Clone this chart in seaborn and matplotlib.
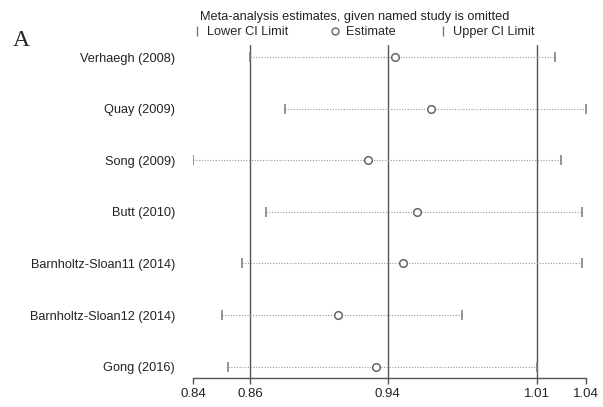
import matplotlib
matplotlib.use("Agg")
import matplotlib.pyplot as plt
from matplotlib.lines import Line2D
import numpy as np
import pandas as pd
import seaborn as sns

# studies omitted one at a time
studies = ["Verhaegh (2008)", "Quay (2009)", "Song (2009)", "Butt (2010)",
           "Barnholtz-Sloan11 (2014)", "Barnholtz-Sloan12 (2014)", "Gong (2016)"]
lower = [0.869, 0.887, 0.840, 0.877, 0.865, 0.855, 0.858]
estimate = [0.943, 0.961, 0.929, 0.954, 0.947, 0.914, 0.933]
upper = [1.024, 1.040, 1.027, 1.038, 1.038, 0.977, 1.015]

# overall lower CI / estimate / upper CI, and the axis ends
ref_lines = [0.869, 0.939, 1.015]
tick_vals = [0.840, 0.869, 0.939, 1.015, 1.040]
tick_labels = ["0.84", "0.86", "0.94", "1.01", "1.04"]

df = pd.DataFrame({"study": studies, "lower": lower,
                   "estimate": estimate, "upper": upper})
df["row"] = np.arange(len(df))

sns.set_style("white")
plt.rcParams["font.family"] = ["Liberation Sans", "DejaVu Sans"]

fig = plt.figure(figsize=(6.03, 4.07), dpi=100)
ax = fig.add_axes([0.320, 0.0713, 0.652, 0.8177])

for v in ref_lines:
    ax.axvline(v, color="#555555", lw=1.0, zorder=1)

ax.hlines(df["row"], df["lower"], df["upper"], colors="#9a9a9a",
          linestyles=(0, (1, 1.5)), lw=0.8, zorder=2)
ax.scatter(df["lower"], df["row"], marker="|", s=60, color="#777777", lw=1.1, zorder=3)
ax.scatter(df["upper"], df["row"], marker="|", s=60, color="#777777", lw=1.1, zorder=3)
sns.scatterplot(data=df, x="estimate", y="row", ax=ax, marker="o", s=30,
                facecolor="white", edgecolor="#666666", linewidth=1.1, zorder=4)

ax.set_xlim(0.840, 1.040)
ax.set_ylim(6.22, -0.23)
ax.set_yticks(df["row"])
ax.set_yticklabels(df["study"], fontsize=9.2, color="#222222")
ax.tick_params(axis="y", length=0, pad=13)
ax.set_xticks(tick_vals)
ax.set_xticklabels(tick_labels, fontsize=9.5, color="#222222")
ax.tick_params(axis="x", length=4, width=1, color="#555555", pad=3, direction="out", bottom=True)
ax.set_xlabel("")
ax.set_ylabel("")
for side in ["top", "right", "left"]:
    ax.spines[side].set_visible(False)
ax.spines["bottom"].set_color("#555555")
ax.spines["bottom"].set_linewidth(1.0)

fig.text(0.332, 0.958, "Meta-analysis estimates, given named study is omitted",
         fontsize=9.2, color="#222222", va="center")
fig.text(0.021, 0.90, "A", fontsize=17, family="Liberation Serif", va="center")

handles = [
    Line2D([], [], ls="none", marker="|", color="#777777", markersize=7, label="Lower CI Limit"),
    Line2D([], [], ls="none", marker="o", markerfacecolor="white", markeredgecolor="#666666",
           markersize=5, label="Estimate"),
    Line2D([], [], ls="none", marker="|", color="#777777", markersize=7, label="Upper CI Limit"),
]
fig.legend(handles=handles, ncol=3, loc="center left", bbox_to_anchor=(0.307, 0.921),
           frameon=False, fontsize=9.2, handlelength=0.8, handletextpad=0.4,
           columnspacing=3.3, borderpad=0)

fig.savefig("out.png", dpi=100)
